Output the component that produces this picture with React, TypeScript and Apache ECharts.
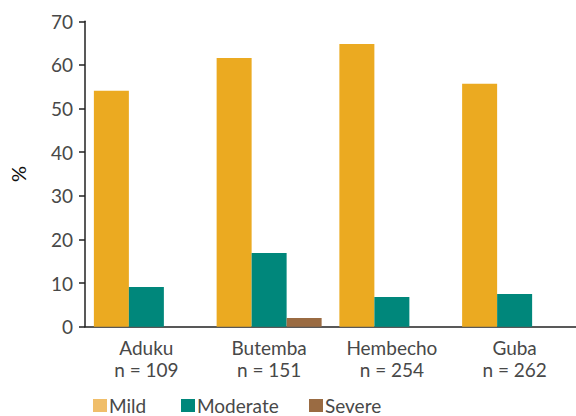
import React, { useEffect, useRef } from "react";
import * as echarts from "echarts";

const categories = ["Aduku\nn = 109", "Butemba\nn = 151", "Hembecho\nn = 254", "Guba\nn = 262"];
const mild = [54.1, 61.6, 64.8, 55.7];
const moderate = [9.1, 16.9, 6.8, 7.5];
const severe = [0, 2.0, 0, 0];
const yTicks = [0, 10, 20, 30, 40, 50, 60, 70];

const FONT = "Lato";
const TXT = "#484848";

export default function App() {
  const ref = useRef<HTMLDivElement>(null);
  useEffect(() => {
    const chart = echarts.init(ref.current!, undefined, { renderer: "svg" });
    const legendBase = {
      bottom: -4,
      itemWidth: 14,
      itemHeight: 13,
      itemGap: 4,
      icon: "rect",
      textStyle: { fontFamily: FONT, fontSize: 19, color: TXT, padding: [0, 0, 0, -3] },
      selectedMode: false,
    };
    chart.setOption({
      animation: false,
      grid: { left: 84, right: 0, top: 21.3, bottom: 89.3 },
      legend: [
        { ...legendBase, left: 88, data: [{ name: "Mild", itemStyle: { color: "#F0BE6A" } }] },
        { ...legendBase, left: 176, data: ["Moderate"] },
        { ...legendBase, left: 304, data: ["Severe"] },
      ],
      xAxis: {
        type: "category",
        data: categories,
        axisLine: { lineStyle: { color: "#222", width: 1.5 } },
        axisTick: { length: 6, lineStyle: { color: "#222", width: 1.5 } },
        axisLabel: {
          fontFamily: FONT,
          fontSize: 19,
          color: TXT,
          lineHeight: 22,
          margin: 10,
        },
      },
      yAxis: {
        type: "value",
        min: yTicks[0],
        max: yTicks[yTicks.length - 1],
        interval: 10,
        name: "%",
        nameLocation: "middle",
        nameRotate: 90,
        nameGap: 57,
        nameTextStyle: { fontFamily: FONT, fontSize: 20, color: "#111" },
        axisLine: { show: true, lineStyle: { color: "#222", width: 1.5 } },
        axisTick: { show: true, length: 6, lineStyle: { color: "#222", width: 1.5 } },
        splitLine: { show: false },
        axisLabel: { fontFamily: FONT, fontSize: 19, color: TXT, margin: 12 },
      },
      series: [
        { name: "Mild", type: "bar", data: mild, barWidth: 35, barGap: "0%", itemStyle: { color: "#EBAA21" } },
        { name: "Moderate", type: "bar", data: moderate, barWidth: 35, barGap: "0%", itemStyle: { color: "#00877B" } },
        { name: "Severe", type: "bar", data: severe, barWidth: 35, barGap: "0%", itemStyle: { color: "#9A6B42" } },
      ],
    });
    return () => chart.dispose();
  }, []);
  return <div ref={ref} style={{ width: 576, height: 416, position: "absolute", left: 0, top: 0 }} />;
}
